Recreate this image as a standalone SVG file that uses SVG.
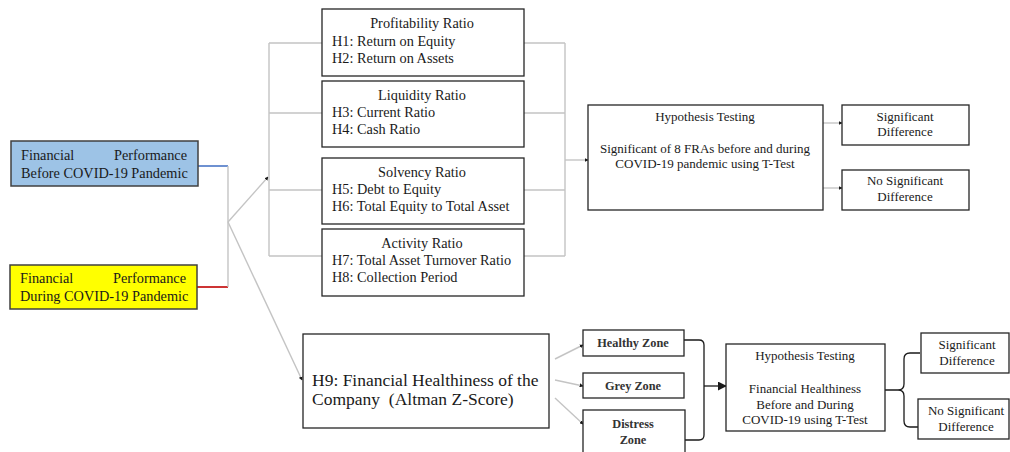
<svg xmlns="http://www.w3.org/2000/svg" width="1010" height="452" viewBox="0 0 1010 452" font-family="'Liberation Serif', serif">
  <defs>
    <style>
      .box { fill: #ffffff; stroke: #262626; stroke-width: 1.3; }
      .t { font-family: 'Liberation Serif', 'DejaVu Serif', serif; font-size: 13px; fill: #1a1a1a; }
      .r { font-size: 14.3px; }
      .c { text-anchor: middle; }
      .zone { font-weight: bold; font-size: 12.3px; fill: #333333; }
      .big { font-size: 17.5px; }
      .gl { fill: none; stroke: #c4c4c4; stroke-width: 1.4; }
      .bl { fill: none; stroke: #1a1a1a; stroke-width: 1.3; }
    </style>
    <marker id="dot" viewBox="0 0 6 6" refX="5" refY="3" markerWidth="4" markerHeight="4" orient="auto" markerUnits="userSpaceOnUse">
      <path d="M0,0 L6,3 L0,6 z" fill="#1a1a1a"/>
    </marker>
    <marker id="tri" viewBox="0 0 10 10" refX="9" refY="5" markerWidth="9" markerHeight="9" orient="auto" markerUnits="userSpaceOnUse">
      <path d="M0,0 L10,5 L0,10 z" fill="#1a1a1a"/>
    </marker>
  </defs>

  <!-- connectors -->
  <g id="connectors">
    <line x1="198" y1="166" x2="228" y2="166" stroke="#4a76c6" stroke-width="1.6"/>
    <line x1="197" y1="287" x2="228" y2="287" stroke="#c00000" stroke-width="1.6"/>
    <line class="gl" x1="228" y1="166" x2="228" y2="287"/>
    <line class="gl" x1="228" y1="222" x2="268" y2="177" marker-end="url(#dot)"/>
    <line class="gl" x1="228" y1="222" x2="302" y2="380" marker-end="url(#dot)"/>

    <!-- left bracket to ratio boxes -->
    <path class="gl" d="M269,43 V256 M269,43 H322 M269,113 H322 M269,190 H322 M269,256 H322"/>
    <!-- right bracket from ratio boxes -->
    <path class="gl" d="M565,43 V256 M524,43 H565 M524,113 H565 M524,190 H565 M524,256 H565"/>
    <line class="gl" x1="565" y1="160" x2="588" y2="160" marker-end="url(#dot)"/>

    <line class="gl" x1="823" y1="123" x2="842" y2="123" marker-end="url(#dot)"/>
    <line class="gl" x1="823" y1="188" x2="842" y2="188" marker-end="url(#dot)"/>

    <!-- H9 to zones -->
    <line class="gl" x1="555" y1="359" x2="583" y2="345" marker-end="url(#dot)"/>
    <line class="gl" x1="555" y1="380" x2="583" y2="386" marker-end="url(#dot)"/>
    <line class="gl" x1="555" y1="398" x2="583" y2="424" marker-end="url(#dot)"/>

    <!-- zone brace -->
    <path class="bl" d="M684,340 H699 Q704,340 704,345 V435 Q704,440 699,440 H685"/>
    <line class="bl" x1="704" y1="386" x2="726" y2="386" marker-end="url(#tri)"/>

    <!-- result brace -->
    <path class="bl" d="M920,353 H910 Q904,353 904,359 V384 Q904,390 898,390 H885 M898,390 Q904,390 904,396 V421 Q904,427 910,427 H918"/>
  </g>

  <!-- starting points -->
  <g id="before">
    <rect x="11" y="141" width="187" height="45" fill="#9dc3e6" stroke="#404040" stroke-width="1.5"/>
    <text class="t r" x="21" y="160">Financial</text>
    <text class="t r" x="187" y="160" text-anchor="end">Performance</text>
    <text class="t r" x="21" y="178">Before COVID-19 Pandemic</text>
  </g>
  <g id="during">
    <rect x="10" y="265" width="187" height="44" fill="#ffff00" stroke="#404040" stroke-width="1.5"/>
    <text class="t r" x="20" y="283">Financial</text>
    <text class="t r" x="186" y="283" text-anchor="end">Performance</text>
    <text class="t r" x="20" y="301">During COVID-19 Pandemic</text>
  </g>

  <!-- ratio groups -->
  <g id="profitability">
    <rect class="box" x="322" y="9" width="202" height="67"/>
    <text class="t r c" x="422" y="28">Profitability Ratio</text>
    <text class="t r" x="332" y="46">H1: Return on Equity</text>
    <text class="t r" x="332" y="63">H2: Return on Assets</text>
  </g>
  <g id="liquidity">
    <rect class="box" x="322" y="81" width="202" height="66"/>
    <text class="t r c" x="422" y="100">Liquidity Ratio</text>
    <text class="t r" x="332" y="117">H3: Current Ratio</text>
    <text class="t r" x="332" y="134">H4: Cash Ratio</text>
  </g>
  <g id="solvency">
    <rect class="box" x="322" y="158" width="202" height="66"/>
    <text class="t r c" x="422" y="177">Solvency Ratio</text>
    <text class="t r" x="332" y="194">H5: Debt to Equity</text>
    <text class="t r" x="332" y="211">H6: Total Equity to Total Asset</text>
  </g>
  <g id="activity">
    <rect class="box" x="322" y="229" width="202" height="67"/>
    <text class="t r c" x="422" y="248">Activity Ratio</text>
    <text class="t r" x="332" y="265">H7: Total Asset Turnover Ratio</text>
    <text class="t r" x="332" y="282">H8: Collection Period</text>
  </g>

  <!-- ratio testing -->
  <g id="hypothesis-ratios">
    <rect class="box" x="588" y="105" width="235" height="105"/>
    <text class="t c" x="705" y="121">Hypothesis Testing</text>
    <text class="t c" x="705" y="153">Significant of 8 FRAs before and during</text>
    <text class="t c" x="705" y="168">COVID-19 pandemic using T-Test</text>
  </g>
  <g id="significant-1">
    <rect class="box" x="842" y="105" width="127" height="40"/>
    <text class="t c" x="905" y="121">Significant</text>
    <text class="t c" x="905" y="136">Difference</text>
  </g>
  <g id="no-significant-1">
    <rect class="box" x="842" y="170" width="127" height="40"/>
    <text class="t c" x="905" y="185">No Significant</text>
    <text class="t c" x="905" y="201">Difference</text>
  </g>

  <!-- Altman Z-Score branch -->
  <g id="healthiness">
    <rect class="box" x="303" y="334" width="246" height="94"/>
    <text class="t big" x="312" y="386">H9: Financial Healthiness of the</text>
    <text class="t big" x="312" y="405" xml:space="preserve">Company  (Altman Z-Score)</text>
  </g>
  <g id="healthy-zone">
    <rect class="box" x="583" y="330" width="101" height="26"/>
    <text class="t c zone" x="633" y="347">Healthy Zone</text>
  </g>
  <g id="grey-zone">
    <rect class="box" x="583" y="373" width="101" height="25"/>
    <text class="t c zone" x="633" y="390">Grey Zone</text>
  </g>
  <g id="distress-zone">
    <rect class="box" x="583" y="410" width="102" height="50"/>
    <text class="t c zone" x="633" y="428">Distress</text>
    <text class="t c zone" x="633" y="444">Zone</text>
  </g>

  <g id="hypothesis-healthiness">
    <rect class="box" x="726" y="344" width="159" height="87"/>
    <text class="t c" x="805" y="360">Hypothesis Testing</text>
    <text class="t c" x="805" y="393">Financial Healthiness</text>
    <text class="t c" x="805" y="409">Before and During</text>
    <text class="t c" x="805" y="424">COVID-19 using T-Test</text>
  </g>
  <g id="significant-2">
    <rect class="box" x="921" y="333" width="88" height="40"/>
    <text class="t c" x="967" y="349">Significant</text>
    <text class="t c" x="967" y="365">Difference</text>
  </g>
  <g id="no-significant-2">
    <rect class="box" x="918" y="399" width="91" height="40"/>
    <text class="t c" x="966" y="415">No Significant</text>
    <text class="t c" x="966" y="431">Difference</text>
  </g>
</svg>
